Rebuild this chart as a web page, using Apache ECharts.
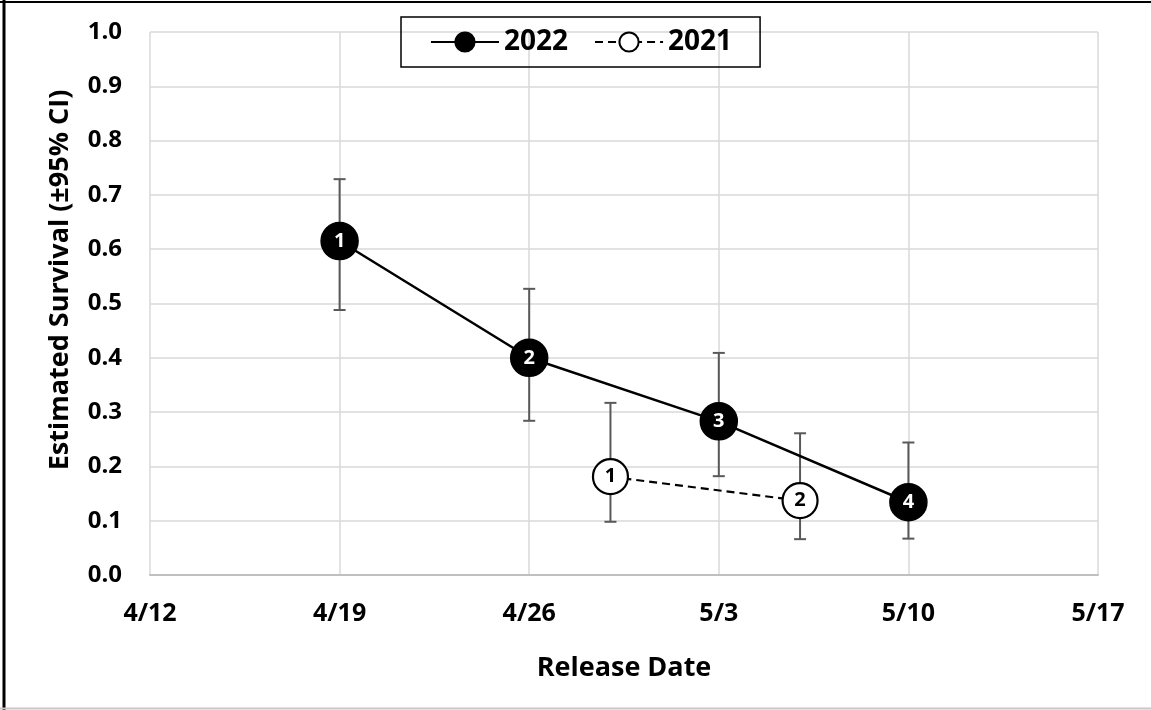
<!DOCTYPE html>
<html>
<head>
<meta charset="utf-8">
<script src="https://cdn.jsdelivr.net/npm/echarts@6/dist/echarts.min.js"></script>
<style>
  html, body { margin: 0; padding: 0; background: #ffffff; }
  #chart { width: 1151px; height: 710px; }
</style>
</head>
<body>
<div id="chart"></div>
<script>
// Release-date tick labels (weekly) and survival tick labels
const xTickLabels = ['4/12', '4/19', '4/26', '5/3', '5/10', '5/17'];
const yTickLabels = ['0.0', '0.1', '0.2', '0.3', '0.4', '0.5', '0.6', '0.7', '0.8', '0.9', '1.0'];

// 2022 releases
const dates2022 = ['4/19', '4/26', '5/3', '5/10'];
const surv2022 = [0.615, 0.400, 0.283, 0.134];
const low2022 = [0.488, 0.284, 0.182, 0.067];
const high2022 = [0.729, 0.527, 0.409, 0.244];
const ids2022 = ['1', '2', '3', '4'];

// 2021 releases
const dates2021 = ['4/29', '5/6'];
const surv2021 = [0.181, 0.137];
const low2021 = [0.098, 0.066];
const high2021 = [0.317, 0.261];
const ids2021 = ['1', '2'];

const FONT = '"Open Sans", "Liberation Sans", sans-serif';
const MONTH_START = { 4: 0, 5: 30 }; // days since Apr 1
const ORIGIN_DAY = 12;               // Apr 12 is day 0 on the x axis
function dayOffset(s) {
  const [m, d] = s.split('/').map(Number);
  return MONTH_START[m] + d - ORIGIN_DAY;
}

const pts2022 = dates2022.map((d, i) => [dayOffset(d), surv2022[i], ids2022[i]]);
const pts2021 = dates2021.map((d, i) => [dayOffset(d), surv2021[i], ids2021[i]]);
const err2022 = dates2022.map((d, i) => [dayOffset(d), low2022[i], high2022[i]]);
const err2021 = dates2021.map((d, i) => [dayOffset(d), low2021[i], high2021[i]]);

// Vertical 95% CI whisker with end caps
function errorBar(params, api) {
  const x = api.value(0);
  const lo = api.coord([x, api.value(1)]);
  const hi = api.coord([x, api.value(2)]);
  const cap = 6;
  const style = { stroke: '#595959', lineWidth: 2, fill: null };
  return {
    type: 'group',
    children: [
      { type: 'line', shape: { x1: lo[0], y1: lo[1], x2: hi[0], y2: hi[1] }, style },
      { type: 'line', shape: { x1: lo[0] - cap, y1: lo[1], x2: lo[0] + cap, y2: lo[1] }, style },
      { type: 'line', shape: { x1: hi[0] - cap, y1: hi[1], x2: hi[0] + cap, y2: hi[1] }, style }
    ]
  };
}

const chart = echarts.init(document.getElementById('chart'), null, { renderer: 'canvas' });
chart.setOption({
  animation: false,
  backgroundColor: '#ffffff',
  grid: { left: 150, right: 53, top: 32, bottom: 135, containLabel: false },
  graphic: [
    { type: 'line', shape: { x1: 0, y1: 2, x2: 1151, y2: 2 }, style: { stroke: '#000', lineWidth: 2 } },
    { type: 'line', shape: { x1: 4, y1: 0, x2: 4, y2: 710 }, style: { stroke: '#000', lineWidth: 3 } },
    { type: 'line', shape: { x1: 0, y1: 708.5, x2: 1151, y2: 708.5 }, style: { stroke: '#c8c8c8', lineWidth: 2 } },
    {
      type: 'text',
      x: 60,
      y: 280,
      rotation: Math.PI / 2,
      style: {
        text: 'Estimated Survival (±95% CI)',
        font: 'bold 27px ' + FONT,
        fill: '#000',
        align: 'center',
        verticalAlign: 'middle'
      }
    }
  ],
  legend: {
    top: 17,
    left: 401,
    padding: [11, 28, 11, 29],
    borderColor: '#000',
    borderWidth: 1.5,
    itemGap: 26,
    itemWidth: 68,
    itemHeight: 24,
    data: ['2022', '2021'],
    textStyle: { fontFamily: FONT, fontWeight: 'bold', fontSize: 28, color: '#000' }
  },
  xAxis: {
    type: 'value',
    min: 0,
    max: 35,
    interval: 7,
    name: 'Release Date',
    nameLocation: 'middle',
    nameGap: 80,
    nameTextStyle: { fontFamily: FONT, fontWeight: 'bold', fontSize: 27, color: '#000' },
    axisLine: { show: true, lineStyle: { color: '#bfbfbf', width: 2 } },
    axisTick: { show: false },
    axisLabel: {
      margin: 26,
      fontFamily: FONT, fontWeight: 'bold', fontSize: 25, color: '#000',
      formatter: v => xTickLabels[Math.round(v / 7)]
    },
    splitLine: { show: true, lineStyle: { color: '#d9d9d9', width: 1.5 } }
  },
  yAxis: {
    type: 'value',
    min: 0,
    max: 1,
    interval: 0.1,
    axisLine: { show: false },
    axisTick: { show: false },
    axisLabel: {
      margin: 28,
      fontFamily: FONT, fontWeight: 'bold', fontSize: 24, color: '#000',
      formatter: v => yTickLabels[Math.round(v * 10)]
    },
    splitLine: { show: true, lineStyle: { color: '#d9d9d9', width: 1.5 } }
  },
  series: [
    {
      type: 'custom',
      renderItem: errorBar,
      data: err2022,
      z: 2,
      silent: true
    },
    {
      type: 'custom',
      renderItem: errorBar,
      data: err2021,
      z: 2,
      silent: true
    },
    {
      name: '2022',
      type: 'line',
      data: pts2022,
      z: 5,
      symbol: 'circle',
      symbolSize: 37,
      lineStyle: { color: '#000', width: 2.5, type: 'solid' },
      itemStyle: { color: '#000', borderColor: '#000', borderWidth: 1.5 },
      label: {
        show: true,
        position: 'inside',
        formatter: p => p.value[2],
        fontFamily: FONT, fontWeight: 'bold', fontSize: 20, color: '#fff'
      }
    },
    {
      name: '2021',
      type: 'line',
      data: pts2021,
      z: 5,
      symbol: 'circle',
      symbolSize: 35,
      lineStyle: { color: '#000', width: 2.2, type: [8, 5] },
      itemStyle: { color: '#fff', borderColor: '#000', borderWidth: 2.2 },
      label: {
        show: true,
        position: 'inside',
        formatter: p => p.value[2],
        fontFamily: FONT, fontWeight: 'bold', fontSize: 20, color: '#000'
      }
    }
  ]
});
</script>
</body>
</html>
